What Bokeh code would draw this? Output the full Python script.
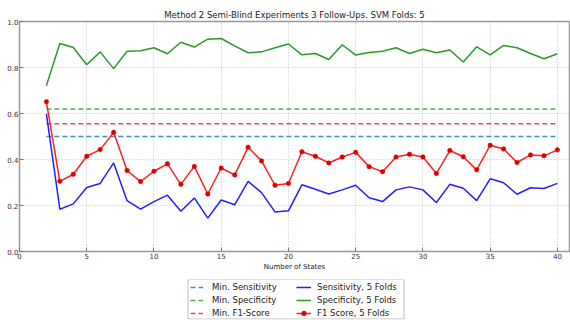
from bokeh.plotting import figure
from bokeh.layouts import column
from bokeh.models import Legend, LegendItem, FixedTicker, Range1d, BoxAnnotation
from bokeh.embed import file_html
from bokeh.resources import INLINE

# Number of hidden states evaluated
states = list(range(2, 41))

# Per-state scores (5-fold SVM)
sensitivity = [0.598, 0.184, 0.207, 0.278, 0.296, 0.385, 0.221, 0.184, 0.217, 0.245,
               0.175, 0.233, 0.145, 0.224, 0.203, 0.305, 0.256, 0.172, 0.177, 0.290,
               0.271, 0.250, 0.268, 0.288, 0.234, 0.217, 0.268, 0.281, 0.268, 0.213,
               0.292, 0.275, 0.221, 0.316, 0.299, 0.249, 0.277, 0.274, 0.296]
specificity = [0.721, 0.904, 0.887, 0.812, 0.868, 0.795, 0.871, 0.873, 0.886, 0.860,
               0.910, 0.889, 0.923, 0.926, 0.894, 0.864, 0.868, 0.886, 0.902, 0.855,
               0.861, 0.835, 0.899, 0.854, 0.865, 0.871, 0.886, 0.861, 0.879, 0.864,
               0.876, 0.824, 0.890, 0.855, 0.896, 0.886, 0.861, 0.838, 0.860]
f1_score = [0.651, 0.305, 0.336, 0.414, 0.443, 0.518, 0.352, 0.304, 0.349, 0.381,
            0.292, 0.370, 0.250, 0.363, 0.333, 0.453, 0.394, 0.288, 0.296, 0.434,
            0.414, 0.385, 0.411, 0.431, 0.369, 0.347, 0.411, 0.423, 0.411, 0.339,
            0.439, 0.412, 0.355, 0.462, 0.446, 0.387, 0.420, 0.416, 0.442]

# Minimum acceptable thresholds
min_sensitivity = 0.50
min_specificity = 0.62
min_f1 = 0.555

x_ticks = [0, 5, 10, 15, 20, 25, 30, 35, 40]
y_ticks = [0.0, 0.2, 0.4, 0.6, 0.8, 1.0]
y_tick_labels = ["0.0", "0.2", "0.4", "0.6", "0.8", "1.0"]

threshold_labels = ["Min. Sensitivity", "Min. Specificity", "Min. F1-Score"]
score_labels = ["Sensitivity, 5 Folds", "Specificity, 5 Folds", "F1 Score, 5 Folds"]

FONT = "DejaVu Sans"

# Line styles shared by the chart and its legend
MIN_SENS = dict(line_color="#3b8fd0", line_width=1.5, line_dash="5 3")
MIN_SPEC = dict(line_color="#4ab04a", line_width=1.5, line_dash="5 3")
MIN_F1 = dict(line_color="#e84a4a", line_width=1.5, line_dash="5 3")
SENS = dict(line_color="#2020ff", line_width=1.5)
SPEC = dict(line_color="#2a9a2a", line_width=1.5)
F1 = dict(line_color="#ff2020", line_width=1.5)
F1_PTS = dict(size=4.5, fill_color="#dd0000", line_color="#cc0000", line_width=0.5)

p = figure(width=570, height=276, output_backend="svg", toolbar_location=None,
           x_range=Range1d(0, 40.9), y_range=Range1d(0, 1.0),
           min_border_left=19, min_border_right=1, min_border_top=21,
           min_border_bottom=25)

p.title.text = "Method 2 Semi-Blind Experiments 3 Follow-Ups. SVM Folds: 5"
p.title.align = "center"
p.title.text_font = FONT
p.title.text_font_size = "8.5px"
p.title.text_font_style = "normal"
p.title.text_color = "#222222"
p.title.standoff = 3

p.outline_line_color = "#999999"
p.outline_line_width = 1.5
p.background_fill_color = "white"
p.border_fill_color = "white"

for ax in (p.xaxis[0], p.yaxis[0]):
    ax.axis_line_color = None
    ax.major_tick_in = 4
    ax.major_tick_out = 0
    ax.major_tick_line_color = "#777777"
    ax.minor_tick_line_color = None
    ax.major_label_text_font = FONT
    ax.major_label_text_font_size = "7px"
    ax.major_label_text_color = "#333333"
    ax.major_label_standoff = 1

p.xaxis.ticker = FixedTicker(ticks=x_ticks)
p.yaxis.ticker = FixedTicker(ticks=y_ticks)
p.yaxis.major_label_overrides = {v: s for v, s in zip(y_ticks, y_tick_labels)}
p.xaxis.axis_label = "Number of States"
p.xaxis.axis_label_text_font = FONT
p.xaxis.axis_label_text_font_size = "7px"
p.xaxis.axis_label_text_font_style = "normal"
p.xaxis.axis_label_text_color = "#222222"
p.xaxis.axis_label_standoff = 1

p.grid.grid_line_color = "#b0b0b0"
p.grid.grid_line_dash = "1 2"
p.grid.grid_line_width = 0.8
p.xgrid.ticker = FixedTicker(ticks=x_ticks)
p.ygrid.ticker = FixedTicker(ticks=y_ticks)

span_x = [states[0], states[-1]]
p.line(span_x, [min_sensitivity] * 2, **MIN_SENS)
p.line(span_x, [min_specificity] * 2, **MIN_SPEC)
p.line(span_x, [min_f1] * 2, **MIN_F1)
p.line(states, sensitivity, **SENS)
p.line(states, specificity, **SPEC)
p.line(states, f1_score, **F1)
p.scatter(states, f1_score, **F1_PTS)

# Legend strip under the chart; its frame lines up with the chart's frame and
# its ranges are in pixels, so the legend box and columns are placed in px
leg_fig = figure(width=570, height=44, output_backend="svg", toolbar_location=None,
                 x_range=Range1d(0, 550), y_range=Range1d(0, 40),
                 x_axis_location=None, y_axis_location=None,
                 min_border_left=19, min_border_right=1,
                 min_border_top=3, min_border_bottom=1)
leg_fig.grid.visible = False
leg_fig.outline_line_color = None
leg_fig.border_fill_color = "white"

leg_fig.add_layout(BoxAnnotation(left=168.5, right=384.5, bottom=0.5, top=40,
                                 fill_alpha=0, line_color="#333333",
                                 line_width=1, editable=False))

hidden = ([-50, -40], [-50, -40])
g_sens_min = leg_fig.line(*hidden, **MIN_SENS)
g_spec_min = leg_fig.line(*hidden, **MIN_SPEC)
g_f1_min = leg_fig.line(*hidden, **MIN_F1)
g_sens = leg_fig.line(*hidden, **SENS)
g_spec = leg_fig.line(*hidden, **SPEC)
g_f1 = leg_fig.line(*hidden, **F1)
g_f1_pts = leg_fig.scatter(*hidden, **F1_PTS)


def make_legend(labels, groups, loc, glyph_w, standoff):
    lg = Legend(items=[LegendItem(label=lab, renderers=rs)
                       for lab, rs in zip(labels, groups)],
                location=loc, orientation="vertical")
    lg.label_text_font = FONT
    lg.label_text_font_size = "8.5px"
    lg.label_text_color = "#222222"
    lg.label_height = 12
    lg.glyph_height = 12
    lg.glyph_width = glyph_w
    lg.label_standoff = standoff
    lg.spacing = 1
    lg.padding = 1
    lg.margin = 0
    lg.border_line_color = None
    lg.background_fill_alpha = 0
    return lg


leg_fig.add_layout(make_legend(threshold_labels,
                               [[g_sens_min], [g_spec_min], [g_f1_min]],
                               (171, 0), 13, 9), "center")
leg_fig.add_layout(make_legend(score_labels,
                               [[g_sens], [g_spec], [g_f1, g_f1_pts]],
                               (277, 0), 15, 6), "center")

layout = column(p, leg_fig, spacing=0)
open("out.html", "w").write(file_html(layout, INLINE))
